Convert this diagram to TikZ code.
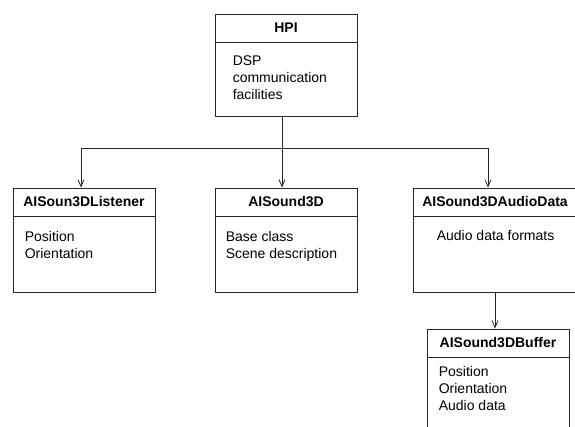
\documentclass[tikz,border=0pt]{standalone}
\usepackage{fontspec}
\setmainfont{Liberation Sans}
\usetikzlibrary{arrows.meta}
\begin{document}
\begin{tikzpicture}[x=1pt,y=-1pt,
    box/.style={draw=black!85, line width=0.8pt, inner sep=0pt},
    head/.style={box, minimum height=28pt, anchor=north, font=\bfseries\fontsize{14}{17}\selectfont},
    body/.style={inner sep=0pt, align=left, anchor=north west, font=\fontsize{14}{17}\selectfont},
    link/.style={draw=black!85, line width=0.8pt, -{Straight Barb[length=7pt,width=6pt]}}]
    \useasboundingbox (0,0) rectangle (575,427);
    \clip (0,0) rectangle (575,427);
    \node[box, minimum width=142pt, minimum height=102pt] (hpi) at (286,65) {};
    \node[head, minimum width=142pt] (hpi head) at (hpi.north) {HPI};
    \node[body] (hpi text) at ([xshift=18pt,yshift=-13pt]hpi head.south west) {DSP\\communication\\facilities};
    \node[box, minimum width=142pt, minimum height=104pt] (listener) at (84,240) {};
    \node[head, minimum width=142pt] (listener head) at (listener.north) {AISoun3DListener};
    \node[body] (listener text) at ([xshift=12pt,yshift=-15pt]listener head.south west) {Position\\Orientation};
    \node[box, minimum width=142pt, minimum height=104pt] (sound) at (286,240) {};
    \node[head, minimum width=142pt] (sound head) at (sound.north) {AISound3D};
    \node[body] (sound text) at ([xshift=11pt,yshift=-15pt]sound head.south west) {Base class\\Scene description};
    \node[box, minimum width=164pt, minimum height=104pt] (audio) at (495,240) {};
    \node[head, minimum width=164pt] (audio head) at (audio.north) {AISound3DAudioData};
    \node[body] (audio text) at ([xshift=24pt,yshift=-14pt]audio head.south west) {Audio data formats};
    \node[box, minimum width=142pt, minimum height=104pt] (buffer) at (498,381) {};
    \node[head, minimum width=142pt] (buffer head) at (buffer.north) {AISound3DBuffer};
    \node[body] (buffer text) at ([xshift=12pt,yshift=-9pt]buffer head.south west) {Position\\Orientation\\Audio data};
    \coordinate (bus) at (282,148);
    \draw[link] (hpi.south -| bus) -- (sound.north -| bus);
    \draw[link] (bus) -| ([xshift=-3pt]listener.north);
    \draw[link] (bus) -| ([xshift=-7pt]audio.north);
    \draw[link] (audio.south) -- (buffer.north -| audio.south);
\end{tikzpicture}
\end{document}
